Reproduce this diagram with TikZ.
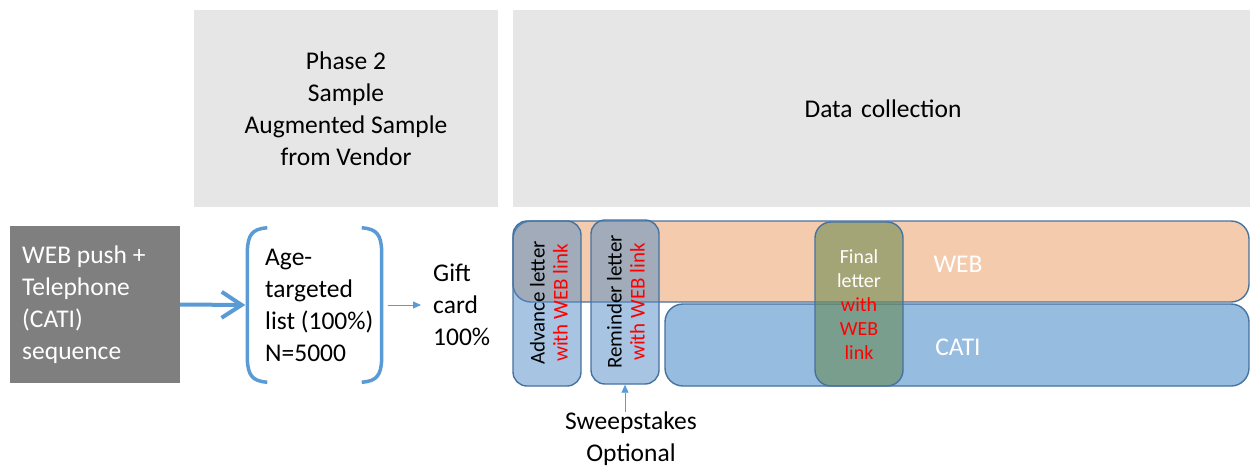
\documentclass[tikz,border=0pt]{standalone}
\usepackage{fontspec}
\setmainfont{Carlito}
\usetikzlibrary{arrows.meta}
\definecolor{hdrgray}{RGB}{230,230,230}
\definecolor{darkgray}{RGB}{127,127,127}
\definecolor{accent}{RGB}{91,155,213}
\definecolor{barline}{RGB}{70,114,160}
\definecolor{webfill}{RGB}{244,203,172}
\definecolor{catifill}{RGB}{150,188,224}
\definecolor{letterfill}{RGB}{80,140,200}
\definecolor{finalfill}{RGB}{100,134,76}
\definecolor{linkred}{RGB}{255,0,0}
\tikzset{
  big/.style={font=\fontsize{25.5}{32}\selectfont},
  hdr/.style={fill=hdrgray, draw=none, big, align=center, inner sep=0pt},
  bar/.style={draw=barline, line width=1.4pt, rounded corners=18pt, inner sep=0pt},
  letterbox/.style={draw=barline, line width=1.4pt, rounded corners=14pt,
    fill=letterfill, fill opacity=0.5, text opacity=1, inner sep=0pt},
  finalbox/.style={draw=barline, line width=1.4pt, rounded corners=16pt,
    fill=finalfill, fill opacity=0.55, text opacity=1, inner sep=0pt},
  lbl/.style={inner sep=0pt, align=left, anchor=west, big},
  thinarrow/.style={draw=accent, line width=0.8pt, -{Triangle[length=8pt,width=7pt]}},
}
\begin{document}
\begin{tikzpicture}[x=1pt,y=-1pt]
\useasboundingbox (0,0) rectangle (1250,466);

% header panels
\node[hdr, minimum width=304pt, minimum height=197pt] (phase) at (346,108.5)
  {Phase 2\\Sample\\Augmented Sample\\from Vendor};
\node[hdr, minimum width=740pt, minimum height=197pt, text width=740pt] (datacol) at (883,108.5)
  {Data collection};

% design box
\node[fill=darkgray, minimum width=170pt, minimum height=157pt, inner sep=0pt] (design) at (95,304.5) {};
\node[lbl, text=white] (designtxt) at (22,305)
  {WEB push +\\Telephone\\(CATI)\\sequence};

% sample list in round brackets
\node[minimum width=134pt, minimum height=154pt, inner sep=0pt] (list) at (314.5,305) {};
\node[lbl] (listtxt) at (265,305) {Age-\\targeted\\list (100\%)\\N=5000};
\draw[accent, line width=3.5pt]
  ([xshift=20pt]list.north west) .. controls ([xshift=4pt,yshift=-1pt]list.north west) and ([xshift=1pt,yshift=-8pt]list.north west) .. ([yshift=-22pt]list.north west)
  -- ([yshift=22pt]list.south west)
  .. controls ([xshift=1pt,yshift=8pt]list.south west) and ([xshift=4pt,yshift=1pt]list.south west) .. ([xshift=20pt]list.south west);
\draw[accent, line width=3.5pt]
  ([xshift=-20pt]list.north east) .. controls ([xshift=-4pt,yshift=-1pt]list.north east) and ([xshift=-1pt,yshift=-8pt]list.north east) .. ([yshift=-22pt]list.north east)
  -- ([yshift=22pt]list.south east)
  .. controls ([xshift=-1pt,yshift=8pt]list.south east) and ([xshift=-4pt,yshift=1pt]list.south east) .. ([xshift=-20pt]list.south east);

\draw[accent, line width=4pt, -{Straight Barb[length=20pt,width=26pt,line width=4pt]}]
  (design.east) -- ([xshift=-2pt]list.west);

% incentive
\node[lbl] (gift) at (433,305) {Gift\\card\\100\%};
\draw[thinarrow] ([xshift=6pt]list.east) -- ([xshift=-12pt]gift.west);

% mode bars
\node[bar, fill=webfill, minimum width=736pt, minimum height=81pt] (web) at (881,261.5) {};
\node[bar, fill=catifill, minimum width=584pt, minimum height=82pt] (cati) at (957,345) {};
\node[big, text=white] (webtxt) at (958,264) {WEB};
\node[big, text=white] (catitxt) at (958,347) {CATI};

% mailings
\node[letterbox, minimum width=68pt, minimum height=165pt] (advance) at (547,303.5) {};
\node[rotate=90, align=center, font=\fontsize{21}{23}\selectfont, inner sep=0pt] (advtxt) at (549,303)
  {Advance letter\\\textcolor{linkred}{with WEB link}};
\node[letterbox, minimum width=68pt, minimum height=164pt] (reminder) at (625,302) {};
\node[rotate=90, align=center, font=\fontsize{21}{23}\selectfont, inner sep=0pt] (remtxt) at (626,302)
  {Reminder letter\\\textcolor{linkred}{with WEB link}};
\node[finalbox, minimum width=88pt, minimum height=164pt] (final) at (859,304) {};
\node[align=center, font=\fontsize{20}{24}\selectfont, inner sep=0pt] (finaltxt) at (859,305)
  {\textcolor{white}{Final}\\\textcolor{white}{letter}\\\textcolor{linkred}{with}\\\textcolor{linkred}{WEB}\\\textcolor{linkred}{link}};

% sweepstakes
\node[big, align=center, inner sep=0pt] (sweep) at (631,439) {Sweepstakes\\Optional};
\draw[thinarrow] ([xshift=-6pt]sweep.north) -- (reminder.south);
\end{tikzpicture}
\end{document}
